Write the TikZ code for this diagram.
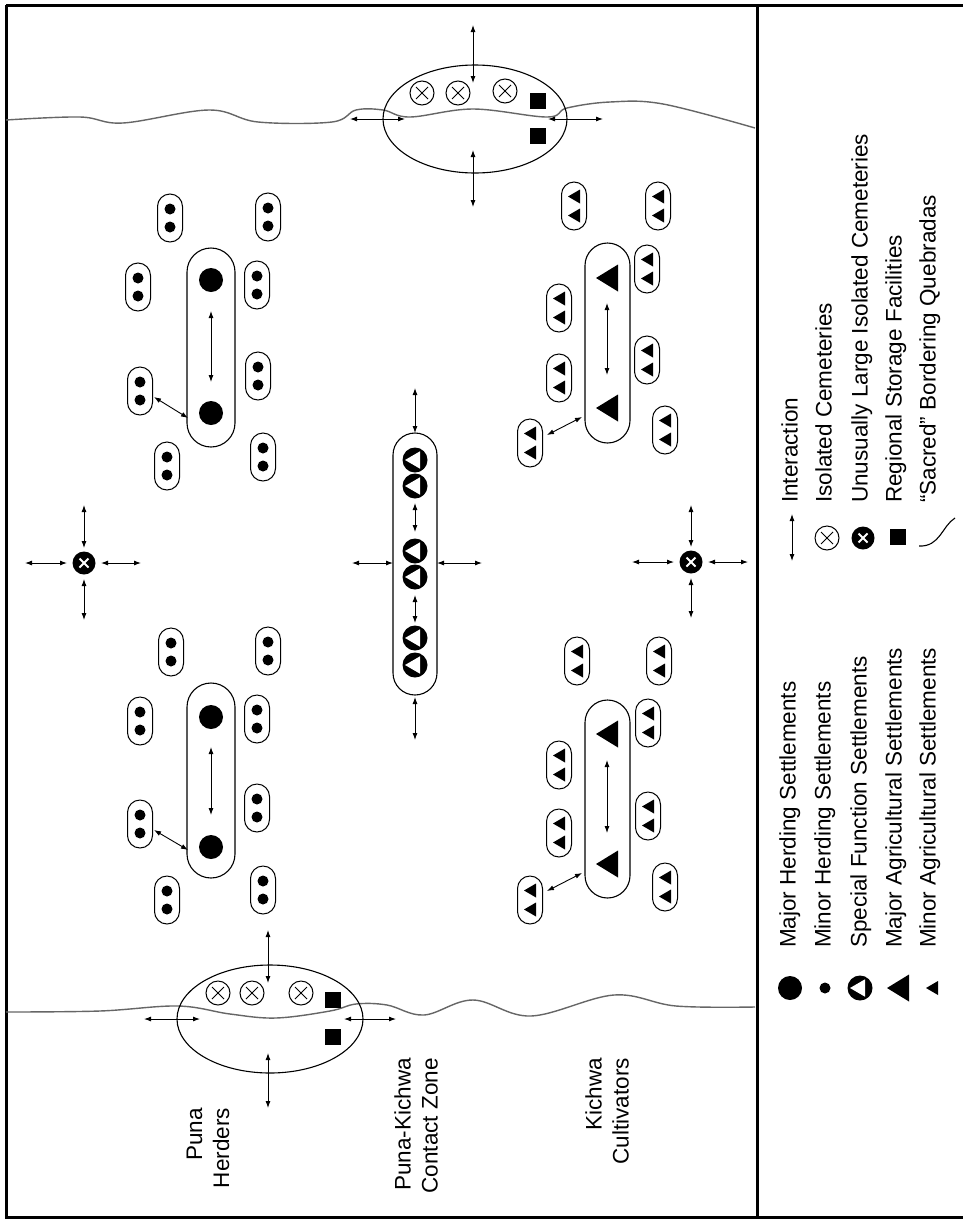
\documentclass[tikz,border=0pt]{standalone}
\usepackage{fontspec}
\setmainfont{Liberation Sans}
\usetikzlibrary{arrows.meta,shapes.geometric}
\newcommand\IArrow[3]{\coordinate (#1-s) at (#2); \coordinate (#1-e) at (#3); \draw[iarr] (#1-s) -- (#1-e);}
\begin{document}
\begin{tikzpicture}[x=1pt,y=-1pt,
  iarr/.style={{Latex[length=7pt,width=5pt]}-{Latex[length=7pt,width=5pt]}, line width=0.9pt},
  frameline/.style={line width=3pt},
  wavy/.style={line width=1.4pt, black!60},
  zoneline/.style={line width=1.1pt},
  capsule/.style={draw, line width=1.1pt, inner sep=0pt},
  bigdot/.style={circle, fill, inner sep=0pt, minimum size=24pt},
  lbl/.style={rotate=90, inner sep=0pt, font=\fontsize{22.5}{27}\selectfont},
  leg/.style={rotate=90, inner sep=0pt, anchor=west, text height=16pt, text depth=5pt, font=\fontsize{22.5}{27}\selectfont},
  hpod/.pic={\draw[line width=1pt, rounded corners=12.5pt] (-12.5,-24) rectangle (12.5,24);
             \fill (0,-9) circle (5.5pt); \fill (0,9) circle (5.5pt);},
  apod/.pic={\draw[line width=1pt, rounded corners=12.5pt] (-12.5,-24) rectangle (12.5,24);
             \fill (-6,-9.5) -- (6,-16.5) -- (6,-2.5) -- cycle;
             \fill (-6,9.5) -- (6,2.5) -- (6,16.5) -- cycle;},
  btri/.pic={\fill (-11,0) -- (11,-13.5) -- (11,13.5) -- cycle;},
  stri/.pic={\fill (-6,0) -- (6,-7) -- (6,7) -- cycle;},
  spec/.pic={\fill (0,0) circle (12.5pt); \fill[white] (-10,0) -- (5,-8.7) -- (5,8.7) -- cycle;},
  icem/.pic={\draw[line width=1pt] (0,0) circle (12pt);
             \draw[line width=1pt] (-6,-6) -- (6,6) (-6,6) -- (6,-6);},
  lcem/.pic={\fill (0,0) circle (11.5pt);
             \draw[white, line width=1.8pt] (-4.5,-4.5) -- (4.5,4.5) (-4.5,4.5) -- (4.5,-4.5);},
  store/.pic={\fill (-8,-8) rectangle (8,8);}
]
\useasboundingbox (0,0) rectangle (963,1221);
\fill[white] (0,0) rectangle (963,1221);

% frame
\draw[frameline] (6,5) -- (966,5);
\draw[frameline] (6,5) -- (6,1217) -- (966,1217);
\draw[frameline] (757,5) -- (757,1217);

% sacred quebradas
\draw[wavy] plot[smooth, tension=0.6] coordinates {(6,120) (80,117) (123,123) (209,110) (258,122) (332,122) (356,110) (383,110) (410,117) (473,109) (547,117) (567,108) (610,102) (663,104) (755,128)};
\draw[wavy] plot[smooth, tension=0.6] coordinates {(6,1012) (100,1011) (178,1006) (230,1014) (276,1018) (330,1011) (356,1004) (387,1005) (424,1015) (473,1000) (531,1016) (614,995) (676,1006) (755,1007)};

% cemetery / storage zones
\node[draw, zoneline, ellipse, inner sep=0pt, minimum width=184pt, minimum height=108pt] (zoneT) at (475,119) {};
\node[draw, zoneline, ellipse, inner sep=0pt, minimum width=186pt, minimum height=108pt] (zoneB) at (270,1019) {};
\pic (cT1) at (422,93) {icem};
\pic (cT2) at (458,93) {icem};
\pic (cT3) at (505,91) {icem};
\pic (sT1) at (538,101) {store};
\pic (sT2) at (538,136) {store};
\pic (cB1) at (218,993) {icem};
\pic (cB2) at (252,993) {icem};
\pic (cB3) at (301,993) {icem};
\pic (sB1) at (333,1000) {store};
\pic (sB2) at (333,1037) {store};
\IArrow{zt1}{473,25}{473,83}
\IArrow{zt2}{473,150}{473,207}
\IArrow{zt3}{350,119}{405,119}
\IArrow{zt4}{548,119}{603,119}
\IArrow{zb1}{268,930}{268,983}
\IArrow{zb2}{268,1053}{268,1108}
\IArrow{zb3}{144,1019}{200,1019}
\IArrow{zb4}{344,1019}{396,1019}

% large isolated cemeteries
\pic (lcL) at (84,563) {lcem};
\pic (lcR) at (691,562) {lcem};
\IArrow{l1}{84,505}{84,548}
\IArrow{l2}{84,579}{84,620}
\IArrow{l3}{25,563}{67,563}
\IArrow{l4}{101,563}{141,563}
\IArrow{r1}{691,505}{691,547}
\IArrow{r2}{691,578}{691,618}
\IArrow{r3}{632,562}{674,562}
\IArrow{r4}{708,562}{748,562}

% herding group A
\node[capsule, rounded corners=24pt, minimum width=48pt, minimum height=199pt] (hcapA) at (211,347.5) {};
\node[bigdot] (hA1) at (211,280) {};
\node[bigdot] (hA2) at (211,413) {};
\IArrow{ha}{211,311}{211,382}
\pic (hpA1) at (170,218) {hpod};
\pic (hpA2) at (268,217) {hpod};
\pic (hpA3) at (138,287) {hpod};
\pic (hpA4) at (257,285) {hpod};
\pic (hpA5) at (140,391) {hpod};
\pic (hpA6) at (258,376) {hpod};
\pic (hpA7) at (167,466) {hpod};
\pic (hpA8) at (263,457) {hpod};
\IArrow{hpa}{154,397}{188,418}

% herding group B
\node[capsule, rounded corners=24pt, minimum width=48pt, minimum height=195pt] (hcapB) at (211,780.5) {};
\node[bigdot] (hB1) at (211,717) {};
\node[bigdot] (hB2) at (211,847) {};
\IArrow{hb}{211,747}{211,815}
\pic (hpB1) at (171,652) {hpod};
\pic (hpB2) at (268,651) {hpod};
\pic (hpB3) at (140,721) {hpod};
\pic (hpB4) at (257,719) {hpod};
\pic (hpB5) at (257,808) {hpod};
\pic (hpB6) at (140,824) {hpod};
\pic (hpB7) at (167,900) {hpod};
\pic (hpB8) at (263,890) {hpod};
\IArrow{hpb}{154,830}{188,850}

% special function settlements
\node[capsule, rounded corners=22pt, minimum width=44pt, minimum height=262pt] (scap) at (415,564) {};
\pic (sp1) at (415,460) {spec};
\pic (sp2) at (415,486) {spec};
\pic (sp3) at (415,551) {spec};
\pic (sp4) at (415,577) {spec};
\pic (sp5) at (415,638) {spec};
\pic (sp6) at (415,665) {spec};
\IArrow{s1}{415,503}{415,532}
\IArrow{s2}{415,595}{415,623}
\IArrow{s3}{415,388}{415,433}
\IArrow{s4}{415,697}{415,740}
\IArrow{s5}{352,563}{393,563}
\IArrow{s6}{437,563}{482,563}

% agricultural group A
\node[capsule, rounded corners=22.5pt, minimum width=45pt, minimum height=200pt] (acapA) at (607.5,343) {};
\pic (aA1) at (607,278) {btri};
\pic (aA2) at (607,408) {btri};
\IArrow{aa}{607,303}{607,375}
\pic (apA1) at (574,206) {apod};
\pic (apA2) at (658,206) {apod};
\pic (apA3) at (647,269) {apod};
\pic (apA4) at (559,308) {apod};
\pic (apA5) at (647,360) {apod};
\pic (apA6) at (559,378) {apod};
\pic (apA7) at (665,430) {apod};
\pic (apA8) at (530,443) {apod};
\IArrow{apa}{547,435}{582,417}

% agricultural group B
\node[capsule, rounded corners=22.5pt, minimum width=45pt, minimum height=198pt] (acapB) at (607.5,799) {};
\pic (aB1) at (607,734) {btri};
\pic (aB2) at (607,864) {btri};
\IArrow{ab}{607,760}{607,833}
\pic (apB1) at (577,661) {apod};
\pic (apB2) at (659,661) {apod};
\pic (apB3) at (648,723) {apod};
\pic (apB4) at (559,765) {apod};
\pic (apB5) at (648,816) {apod};
\pic (apB6) at (559,833) {apod};
\pic (apB7) at (665,887) {apod};
\pic (apB8) at (530,900) {apod};
\IArrow{apb}{547,891}{582,873}

% zone labels
\node[lbl, anchor=east, align=right] (tPuna) at (208,1108) {Puna\\Herders};
\node[lbl, anchor=east, align=right] (tContact) at (416,1058) {Puna-Kichwa\\Contact Zone};
\node[lbl, anchor=east, align=right] (tKichwa) at (607,1058) {Kichwa\\Cultivators};

% legend, left column
\node[bigdot] (kMajH) at (790,988) {};
\fill (825,988) circle (5.5pt) coordinate (kMinH);
\pic (kSpec) at (860,988) {spec};
\pic (kMajA) at (898,988) {btri};
\pic (kMinA) at (932,988) {stri};
\node[leg] (lMajH) at (790,948) {Major Herding Settlements};
\node[leg] (lMinH) at (825,948) {Minor Herding Settlements};
\node[leg] (lSpec) at (861,948) {Special Function Settlements};
\node[leg] (lMajA) at (896,948) {Major Agricultural Settlements};
\node[leg] (lMinA) at (930,948) {Minor Agricultural Settlements};

% legend, right column
\IArrow{kInt}{792,514}{792,561}
\pic (kIso) at (827,538) {icem};
\pic (kLarge) at (863,538) {lcem};
\pic (kStore) at (898,537) {store};
\coordinate (kQ1) at (919,546);
\coordinate (kQ2) at (955,518);
\draw[line width=1.1pt] (kQ1) .. controls (940,547) and (942,526) .. (kQ2);
\node[leg] (lInt) at (792,503) {Interaction};
\node[leg] (lIso) at (826,503) {Isolated Cemeteries};
\node[leg] (lLarge) at (862,503) {Unusually Large Isolated Cemeteries};
\node[leg] (lStore) at (896,503) {Regional Storage Facilities};
\node[leg] (lQueb) at (930,503) {``Sacred'' Bordering Quebradas};
\end{tikzpicture}
\end{document}
